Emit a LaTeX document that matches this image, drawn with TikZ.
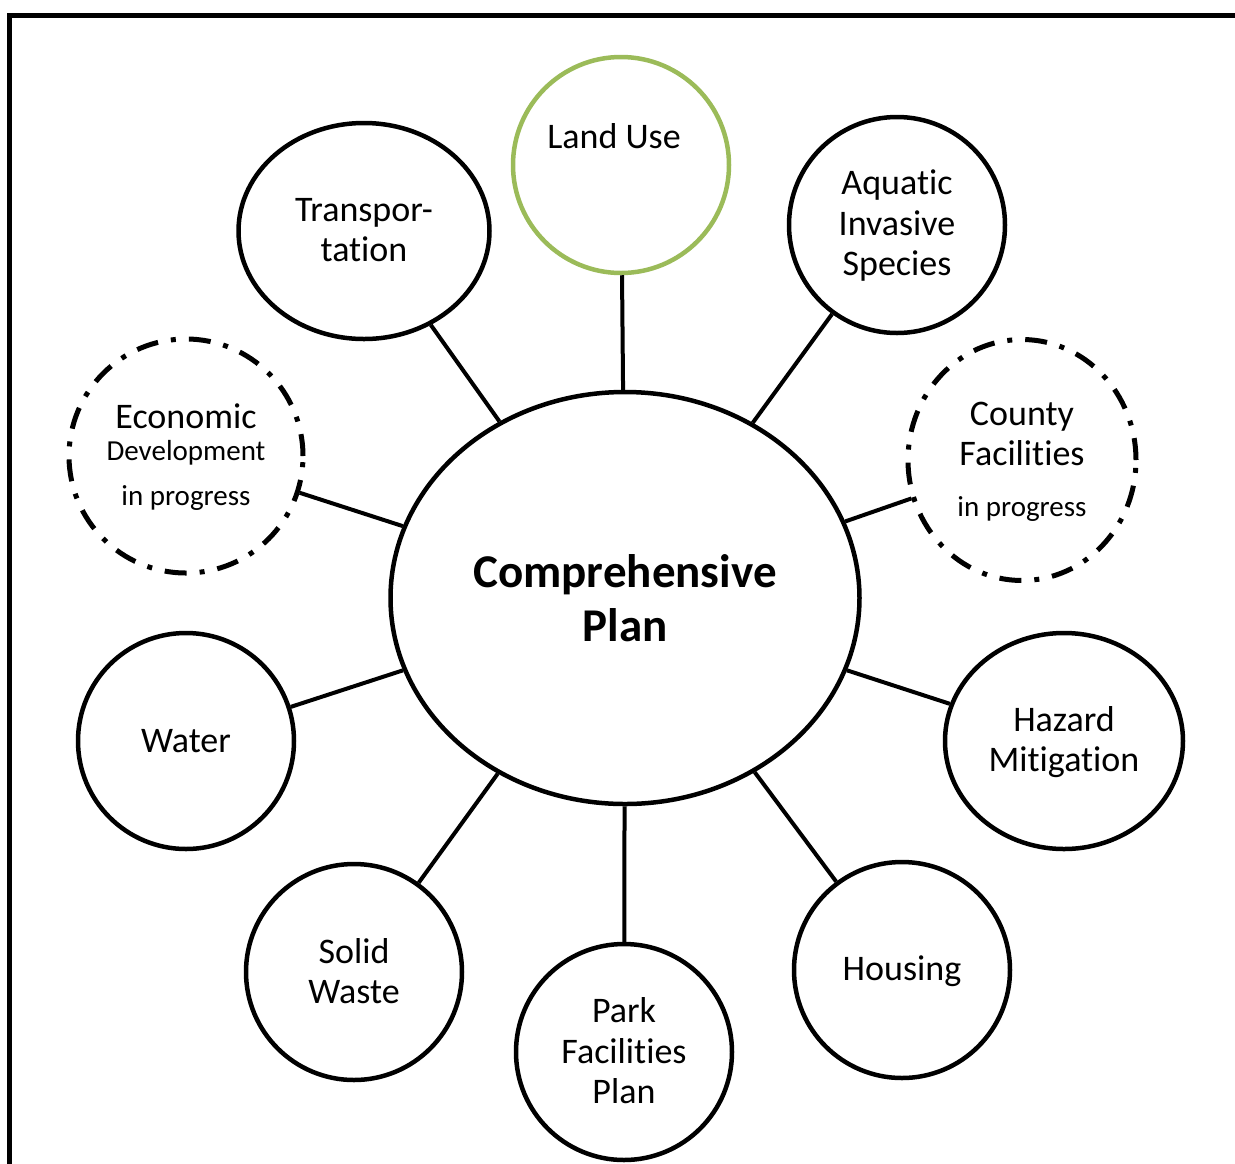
\documentclass[tikz,border=0pt]{standalone}
\usepackage{fontspec}
\setmainfont{Carlito}[Ligatures={NoCommon,NoContextual}]
\usetikzlibrary{shapes.geometric}
\definecolor{lugreen}{RGB}{155,187,89}
\tikzset{
  topic/.style={draw=black, line width=4.5pt, inner sep=0pt, ellipse},
  pending/.style={topic, line width=5pt, dash pattern=on 22pt off 13pt on 5pt off 13pt},
  link/.style={line width=4pt},
  lbl/.style={align=center, inner sep=0pt, font=\fontsize{36}{40.5}\selectfont},
  small/.style={align=center, inner sep=0pt, font=\fontsize{29}{34}\selectfont},
  big/.style={align=center, inner sep=0pt, font=\fontsize{47}{54}\selectfont\bfseries},
}
\begin{document}
\begin{tikzpicture}[x=1pt,y=-1pt]
\useasboundingbox (0,0) rectangle (1235,1163);
\draw[line width=5pt] (9.5,1200) -- (9.5,15.5) -- (1260,15.5);

\node[topic, minimum width=469pt, minimum height=412pt] (cp) at (625,598) {};
\node[topic, draw=lugreen, minimum width=216pt, minimum height=216pt] (lu) at (621,165) {};
\node[topic, minimum width=251pt, minimum height=216pt] (tr) at (364,231) {};
\node[topic, minimum width=216pt, minimum height=216pt] (ais) at (897,225) {};
\node[pending, minimum width=234pt, minimum height=234pt] (ed) at (186,456) {};
\node[pending, minimum width=228pt, minimum height=241pt] (cf) at (1022,460) {};
\node[topic, minimum width=216pt, minimum height=216pt] (wa) at (186,741) {};
\node[topic, minimum width=238pt, minimum height=216pt] (hm) at (1064,741) {};
\node[topic, minimum width=216pt, minimum height=216pt] (sw) at (354,972) {};
\node[topic, minimum width=216pt, minimum height=216pt] (pf) at (624,1052) {};
\node[topic, minimum width=216pt, minimum height=216pt] (ho) at (902,970) {};

\foreach \n in {lu,tr,ais,ed,cf,wa,hm,sw,pf,ho}{\draw[link] (\n) -- (cp);}

\node[big] (tcp) at (625,598) {Comprehensive\\Plan};
\node[lbl] (tlu) at (614,136) {Land Use};
\node[lbl] (ttr) at (364,230) {Transpor-\\tation};
\node[lbl] (tais) at (897,226) {Aquatic\\Invasive\\Species};
\node[lbl] (ted1) at (186,416) {Economic};
\node[small] (ted2) at (186,453) {Development};
\node[small] (ted3) at (186,498) {in progress};
\node[lbl] (tcf1) at (1022,434) {County\\Facilities};
\node[small] (tcf2) at (1022,509) {in progress};
\node[lbl] (twa) at (186,741) {Water};
\node[lbl] (thm) at (1064,742) {Hazard\\Mitigation};
\node[lbl] (tsw) at (354,971) {Solid\\Waste};
\node[lbl] (tpf) at (624,1051) {Park\\Facilities\\Plan};
\node[lbl] (tho) at (902,971) {Housing};
\end{tikzpicture}
\end{document}
